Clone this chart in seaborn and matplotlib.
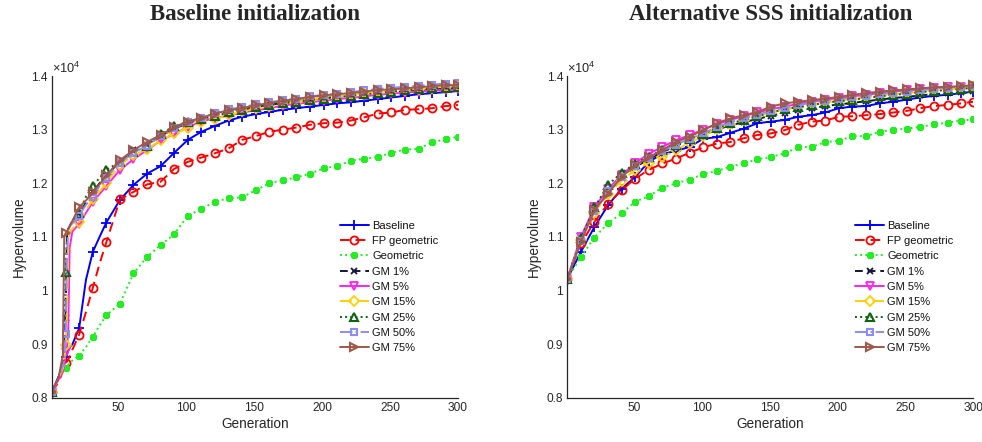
import numpy as np
import pandas as pd
import matplotlib
matplotlib.use("Agg")
import matplotlib.pyplot as plt
import seaborn as sns

# ---------------- data (hypervolume, units of 1e4) ----------------
series_names = ["Baseline", "FP geometric", "Geometric", "GM 1%", "GM 5%",
                "GM 15%", "GM 25%", "GM 50%", "GM 75%"]

gen_left = [1, 6, 9, 10, 11, 12, 13, 14, 16, 21, 26, 31, 36, 41,
            51, 61, 71, 81, 91, 101, 111, 121, 131, 141, 151, 161, 171, 181,
            191, 201, 211, 221, 231, 241, 251, 261, 271, 281, 291, 300]

left_baseline = [0.812, 0.84, 0.86, 0.865, 0.876, 0.88, 0.89, 0.895, 0.90, 0.93, 1.02, 1.072, 1.10, 1.127,
                 1.169, 1.197, 1.218, 1.232, 1.257, 1.281, 1.296, 1.307, 1.317, 1.324, 1.329, 1.333, 1.337, 1.340,
                 1.343, 1.346, 1.349, 1.351, 1.354, 1.357, 1.360, 1.363, 1.366, 1.368, 1.370, 1.372]
left_fp_geometric = [0.812, 0.83, 0.85, 0.86, 0.866, 0.868, 0.872, 0.878, 0.89, 0.918, 0.96, 1.005, 1.05, 1.090,
                     1.170, 1.184, 1.198, 1.203, 1.227, 1.240, 1.248, 1.256, 1.265, 1.281, 1.288, 1.296, 1.300, 1.304,
                     1.309, 1.312, 1.313, 1.317, 1.323, 1.330, 1.332, 1.337, 1.338, 1.340, 1.344, 1.346]
left_geometric = [0.812, 0.835, 0.848, 0.852, 0.856, 0.858, 0.862, 0.865, 0.87, 0.879, 0.895, 0.914, 0.935, 0.954,
                  0.976, 1.032, 1.063, 1.085, 1.105, 1.140, 1.152, 1.166, 1.172, 1.174, 1.187, 1.200, 1.206, 1.211,
                  1.218, 1.228, 1.232, 1.242, 1.246, 1.249, 1.257, 1.263, 1.264, 1.277, 1.282, 1.287]
left_gm1 = [0.812, 0.84, 0.858, 0.87, 0.95, 1.10, 1.115, 1.12, 1.13, 1.14, 1.165, 1.185, 1.20, 1.215,
            1.240, 1.262, 1.272, 1.288, 1.302, 1.312, 1.320, 1.328, 1.333, 1.338, 1.342, 1.346, 1.350, 1.353,
            1.356, 1.359, 1.361, 1.364, 1.366, 1.368, 1.370, 1.372, 1.373, 1.375, 1.377, 1.378]
left_gm5 = [0.812, 0.835, 0.85, 0.86, 0.885, 0.89, 0.93, 1.08, 1.11, 1.125, 1.145, 1.165, 1.18, 1.195,
            1.225, 1.245, 1.262, 1.280, 1.292, 1.305, 1.315, 1.322, 1.326, 1.332, 1.336, 1.340, 1.345, 1.348,
            1.351, 1.354, 1.357, 1.359, 1.362, 1.365, 1.367, 1.369, 1.371, 1.373, 1.374, 1.375]
left_gm15 = [0.812, 0.838, 0.855, 0.865, 0.898, 0.95, 1.09, 1.11, 1.115, 1.128, 1.15, 1.17, 1.185, 1.200,
             1.235, 1.252, 1.264, 1.280, 1.293, 1.303, 1.315, 1.320, 1.327, 1.334, 1.340, 1.345, 1.349, 1.352,
             1.356, 1.359, 1.362, 1.365, 1.368, 1.370, 1.372, 1.374, 1.376, 1.378, 1.380, 1.382]
left_gm25 = [0.812, 0.84, 0.862, 0.88, 1.035, 1.10, 1.115, 1.12, 1.13, 1.145, 1.175, 1.195, 1.21, 1.225,
             1.240, 1.258, 1.270, 1.292, 1.307, 1.314, 1.320, 1.325, 1.332, 1.337, 1.342, 1.346, 1.349, 1.352,
             1.355, 1.358, 1.361, 1.363, 1.366, 1.368, 1.371, 1.373, 1.375, 1.377, 1.378, 1.379]
left_gm50 = [0.812, 0.84, 0.86, 0.87, 0.919, 1.07, 1.11, 1.12, 1.125, 1.140, 1.16, 1.175, 1.195, 1.21,
             1.238, 1.257, 1.270, 1.288, 1.303, 1.314, 1.322, 1.331, 1.338, 1.342, 1.347, 1.351, 1.355, 1.358,
             1.362, 1.365, 1.367, 1.370, 1.373, 1.376, 1.378, 1.380, 1.382, 1.384, 1.386, 1.387]
left_gm75 = [0.812, 0.84, 0.88, 1.10, 1.107, 1.11, 1.115, 1.12, 1.13, 1.156, 1.168, 1.184, 1.198, 1.215,
             1.243, 1.262, 1.277, 1.290, 1.305, 1.315, 1.322, 1.330, 1.336, 1.340, 1.346, 1.349, 1.354, 1.357,
             1.361, 1.364, 1.366, 1.368, 1.371, 1.374, 1.375, 1.377, 1.379, 1.381, 1.383, 1.383]

gen_right = [1, 11, 21, 31, 41, 51, 61, 71, 81, 91, 101, 111, 121, 131, 141, 151,
             161, 171, 181, 191, 201, 211, 221, 231, 241, 251, 261, 271, 281, 291, 300]

right_baseline = [1.022, 1.072, 1.119, 1.159, 1.190, 1.212, 1.240, 1.255, 1.260, 1.268, 1.283, 1.286, 1.294, 1.302, 1.312, 1.315,
                  1.318, 1.324, 1.327, 1.332, 1.340, 1.343, 1.344, 1.349, 1.352, 1.356, 1.360, 1.363, 1.365, 1.368, 1.371]
right_fp_geometric = [1.022, 1.088, 1.128, 1.162, 1.187, 1.209, 1.225, 1.237, 1.246, 1.257, 1.267, 1.274, 1.277, 1.284, 1.290, 1.293,
                      1.299, 1.309, 1.315, 1.317, 1.324, 1.325, 1.327, 1.329, 1.332, 1.335, 1.340, 1.344, 1.346, 1.349, 1.352]
right_geometric = [1.022, 1.063, 1.099, 1.126, 1.144, 1.166, 1.176, 1.192, 1.200, 1.207, 1.217, 1.223, 1.231, 1.237, 1.245, 1.249,
                   1.256, 1.267, 1.268, 1.277, 1.279, 1.288, 1.288, 1.296, 1.300, 1.302, 1.305, 1.310, 1.313, 1.317, 1.319]
right_gm1 = [1.022, 1.095, 1.150, 1.185, 1.210, 1.230, 1.245, 1.258, 1.270, 1.280, 1.290, 1.300, 1.308, 1.314, 1.320, 1.326,
             1.331, 1.336, 1.340, 1.344, 1.347, 1.350, 1.353, 1.356, 1.359, 1.361, 1.364, 1.366, 1.368, 1.370, 1.372]
right_gm5 = [1.022, 1.100, 1.155, 1.190, 1.215, 1.238, 1.255, 1.268, 1.280, 1.290, 1.300, 1.310, 1.318, 1.325, 1.332, 1.338,
             1.343, 1.348, 1.352, 1.356, 1.359, 1.362, 1.365, 1.368, 1.371, 1.373, 1.375, 1.377, 1.379, 1.380, 1.381]
right_gm15 = [1.022, 1.095, 1.145, 1.180, 1.205, 1.225, 1.238, 1.249, 1.262, 1.276, 1.288, 1.302, 1.310, 1.318, 1.325, 1.332,
              1.338, 1.343, 1.347, 1.351, 1.354, 1.357, 1.360, 1.363, 1.366, 1.368, 1.371, 1.373, 1.375, 1.377, 1.379]
right_gm25 = [1.022, 1.098, 1.155, 1.197, 1.220, 1.236, 1.250, 1.262, 1.272, 1.282, 1.292, 1.303, 1.312, 1.318, 1.325, 1.332,
              1.338, 1.342, 1.346, 1.350, 1.353, 1.356, 1.359, 1.362, 1.365, 1.367, 1.370, 1.372, 1.374, 1.376, 1.378]
right_gm50 = [1.022, 1.093, 1.148, 1.185, 1.212, 1.232, 1.248, 1.260, 1.272, 1.283, 1.293, 1.305, 1.314, 1.321, 1.328, 1.335,
              1.341, 1.346, 1.350, 1.354, 1.357, 1.360, 1.363, 1.366, 1.369, 1.371, 1.373, 1.376, 1.378, 1.380, 1.382]
right_gm75 = [1.022, 1.091, 1.150, 1.181, 1.212, 1.234, 1.249, 1.262, 1.277, 1.287, 1.299, 1.312, 1.321, 1.327, 1.333, 1.343,
              1.349, 1.352, 1.355, 1.358, 1.361, 1.365, 1.368, 1.371, 1.373, 1.375, 1.377, 1.379, 1.380, 1.381, 1.383]

titles = ["Baseline initialization", "Alternative SSS initialization"]
ytick_vals = [0.8, 0.9, 1.0, 1.1, 1.2, 1.3, 1.4]
ytick_labels = ["0.8", "0.9", "1", "1.1", "1.2", "1.3", "1.4"]
xtick_vals = [50, 100, 150, 200, 250, 300]

# ---------------- styles ----------------
styles = [
    dict(color="#0000FF", linestyle="-", marker="+", ms=7, mew=1.3, mfc="none"),
    dict(color="#FF0000", linestyle=(0, (5, 3)), marker="o", ms=5.8, mew=1.3, mfc="none"),
    dict(color="#22EE22", linestyle=":", marker=(8, 2, 0), ms=5, mew=2.2, mfc="#22EE22"),
    dict(color="#14143C", linestyle=(0, (4, 2.5)), marker="x", ms=4, mew=1.3, mfc="none"),
    dict(color="#FF22EE", linestyle="-", marker="v", ms=5.8, mew=1.3, mfc="none"),
    dict(color="#FFD000", linestyle=(0, (6, 3)), marker="D", ms=5, mew=1.3, mfc="none"),
    dict(color="#0A6410", linestyle=":", marker="^", ms=5.8, mew=1.5, mfc="none"),
    dict(color="#8C8CF5", linestyle="-.", marker="s", ms=5, mew=1.5, mfc="none"),
    dict(color="#A0584A", linestyle="-", marker=">", ms=5.8, mew=1.5, mfc="none"),
]

sns.set_theme(style="white")
plt.rcParams["font.family"] = ["Liberation Sans", "DejaVu Sans"]
plt.rcParams["mathtext.fontset"] = "custom"
plt.rcParams["mathtext.rm"] = "Liberation Sans"

fig = plt.figure(figsize=(9.82, 4.42), dpi=100)
axL = fig.add_axes([52 / 982, 44 / 442, 406 / 982, 322 / 442])
axR = fig.add_axes([567.3 / 982, 44 / 442, 406 / 982, 322 / 442])

panels = [
    (axL, gen_left, [left_baseline, left_fp_geometric, left_geometric, left_gm1, left_gm5,
                     left_gm15, left_gm25, left_gm50, left_gm75]),
    (axR, gen_right, [right_baseline, right_fp_geometric, right_geometric, right_gm1, right_gm5,
                      right_gm15, right_gm25, right_gm50, right_gm75]),
]

axis_col = "#262626"
for k, (ax, gens, vals) in enumerate(panels):
    mark_idx = [i for i, g in enumerate(gens) if (g - 1) % 10 == 0 or g == 300]
    handles = []
    for name, v, st in zip(series_names, vals, styles):
        df = pd.DataFrame({"Generation": gens, "Hypervolume": v})
        sns.lineplot(data=df, x="Generation", y="Hypervolume", ax=ax,
                     color=st["color"], linestyle=st["linestyle"], linewidth=1.4,
                     marker=st["marker"], markersize=st["ms"], markeredgewidth=st["mew"],
                     markerfacecolor=st["mfc"], markeredgecolor=st["color"],
                     markevery=mark_idx, sort=False, estimator=None, label=name,
                     legend=False)
        handles.append(ax.get_lines()[-1])
    ax.set_xlim(1, 300)
    ax.set_ylim(0.8, 1.4)
    ax.set_xticks(xtick_vals)
    ax.set_xticklabels([str(t) for t in xtick_vals])
    ax.set_yticks(ytick_vals)
    ax.set_yticklabels(ytick_labels)
    ax.tick_params(direction="in", length=4, width=0.8, colors=axis_col,
                   labelsize=8.6, pad=3)
    for s in ["top", "right"]:
        ax.spines[s].set_visible(False)
    for s in ["left", "bottom"]:
        ax.spines[s].set_color(axis_col)
        ax.spines[s].set_linewidth(0.9)
    ax.set_xlabel("Generation", fontsize=9.8, color=axis_col, labelpad=2)
    ax.set_ylabel("Hypervolume", fontsize=9.8, color=axis_col, labelpad=4)
    ax.text(0.0, 1.0, r"$\mathregular{\times10^{4}}$", transform=ax.transAxes,
            fontsize=9.2, color=axis_col, ha="left", va="bottom")
    ax.grid(False)
    ax.set_facecolor("white")
    leg = ax.legend(handles=handles, labels=series_names, loc="lower left",
                    bbox_to_anchor=(0.69, 0.115), frameon=False, fontsize=8,
                    handlelength=2.6, labelspacing=0.48, borderpad=0.2,
                    handletextpad=0.3)
    for t in leg.get_texts():
        t.set_color("#111111")
    cx = (ax.get_position().x0 + ax.get_position().x1) / 2
    fig.text(cx, 1 - 15 / 442, titles[k], ha="center", va="center",
             fontsize=16.5, fontweight="bold", family=["Liberation Serif", "DejaVu Serif"])

fig.savefig("out.png", dpi=100, facecolor="white")
